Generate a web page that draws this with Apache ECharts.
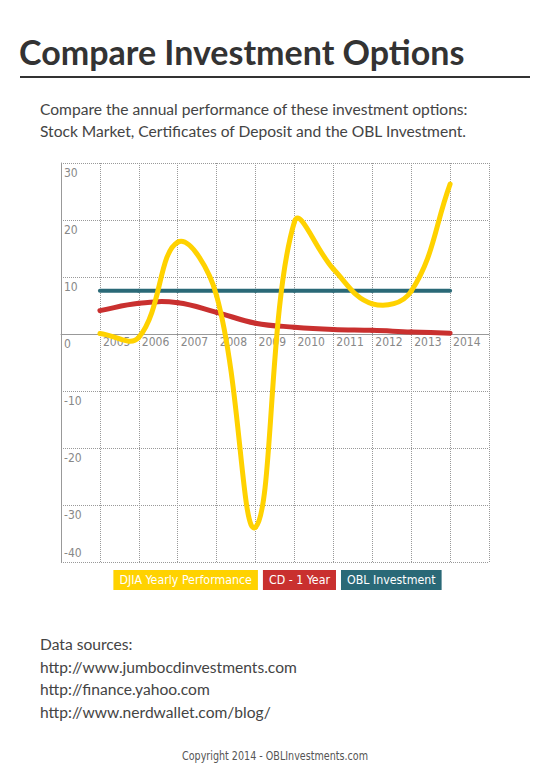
<!DOCTYPE html>
<html><head><meta charset="utf-8">
<script src="https://cdn.jsdelivr.net/npm/echarts@6/dist/echarts.min.js"></script>
<style>html,body{margin:0;padding:0;background:#fff;}#c{width:550px;height:769px;}</style>
</head><body><div id="c"></div>
<script>
const years = [2005, 2006, 2007, 2008, 2009, 2010, 2011, 2012, 2013, 2014];
const djia = [0.1, -0.6, 16.1, 6.7, -33.9, 19.7, 11.4, 5.3, 7.5, 26.3];
const cd1y = [4.1, 5.4, 5.5, 3.8, 1.9, 1.2, 0.8, 0.65, 0.35, 0.15];
const obl = [7.6, 7.6, 7.6, 7.6, 7.6, 7.6, 7.6, 7.6, 7.6, 7.6];
const seriesNames = ['DJIA Yearly Performance', 'CD - 1 Year', 'OBL Investment'];
const colors = ['#FFD200', '#C9302F', '#2A6977'];
const titleText = 'Compare Investment Options';
const subtitleLines = ['Compare the annual performance of these investment options:', 'Stock Market, Certificates of Deposit and the OBL Investment.'];
const sourceLines = ['Data sources:', 'http://www.jumbocdinvestments.com', 'http://finance.yahoo.com', 'http://www.nerdwallet.com/blog/'];
const copyright = 'Copyright 2014 - OBLInvestments.com';

const NARROW = "'Liberation Sans Narrow', 'DejaVu Sans Condensed', Roboto, sans-serif";
const BODY = "Lato, 'Open Sans', sans-serif";
const Y_MIN = -40, Y_MAX = 30;
const GRID = {left: 61, right: 61, top: 163, bottom: 207};
const GRID_H = 769 - GRID.top - GRID.bottom;

const pairs = arr => years.map((y, i) => [y, arr[i]]);
const chart = echarts.init(document.getElementById('c'), null, {renderer: 'svg'});

const graphics = [
  {type: 'text', left: 19, top: 34, style: {text: titleText, font: 'bold 34px Lato', fill: '#333'}},
  {type: 'rect', shape: {x: 20, y: 76, width: 510, height: 2}, style: {fill: '#333'}}
];
subtitleLines.forEach((t, i) => graphics.push({type: 'text', left: 40, top: 101 + i * 22, style: {text: t, font: '15.6px ' + BODY, fill: '#444'}}));
sourceLines.forEach((t, i) => graphics.push({type: 'text', left: 40, top: 636 + i * 22.5, style: {text: t, font: '15.6px ' + BODY, fill: '#444'}}));
graphics.push({type: 'text', x: 275, y: 756, scaleX: 0.82,
  style: {text: copyright, font: '13px ' + NARROW, fill: '#555', align: 'center', verticalAlign: 'middle'}});

// Cardinal spline (tension 0.4) through the data points, positioned by the axes
const TENSION = 0.4;
function splineRenderer(values, color, width) {
  const n = years.length;
  const clampIdx = k => Math.min(n - 1, Math.max(0, k));
  return function (params, api) {
    const i = params.dataIndex;
    if (i >= n - 1) return null;
    const P = k => api.coord([years[clampIdx(k)], values[clampIdx(k)]]);
    const ctrl = k => {
      const p0 = P(k - 1), p1 = P(k), p2 = P(k + 1);
      const d01 = Math.hypot(p1[0] - p0[0], p1[1] - p0[1]);
      const d12 = Math.hypot(p2[0] - p1[0], p2[1] - p1[1]);
      const s = (d01 + d12) || 1;
      const fa = TENSION * d01 / s, fb = TENSION * d12 / s;
      return {
        inner: [p1[0] - fa * (p2[0] - p0[0]), p1[1] - fa * (p2[1] - p0[1])],
        outer: [p1[0] + fb * (p2[0] - p0[0]), p1[1] + fb * (p2[1] - p0[1])]
      };
    };
    const a = P(i), b = P(i + 1), ca = ctrl(i), cb = ctrl(i + 1);
    return {
      type: 'bezierCurve',
      shape: {x1: a[0], y1: a[1], x2: b[0], y2: b[1], cpx1: ca.outer[0], cpy1: ca.outer[1], cpx2: cb.inner[0], cpy2: cb.inner[1]},
      style: {stroke: color, lineWidth: width, fill: null, lineCap: 'round'}
    };
  };
}
const curveSeries = (name, data, color, width, z) => ({
  name, type: 'custom', data: pairs(data), encode: {x: 0, y: 1},
  renderItem: splineRenderer(data, color, width), itemStyle: {color}, z
});

chart.setOption({
  animation: false,
  grid: GRID,
  xAxis: {
    type: 'value', min: 2004, max: 2015, interval: 1, position: 'bottom',
    offset: -GRID_H * (0 - Y_MIN) / (Y_MAX - Y_MIN),
    axisLine: {onZero: false, lineStyle: {color: '#999', width: 1}},
    axisTick: {show: false},
    splitLine: {show: true, lineStyle: {type: 'dotted', color: '#999'}},
    axisLabel: {showMinLabel: false, showMaxLabel: false, align: 'left', margin: 2, padding: [0, 0, 0, 3],
      color: '#888', fontSize: 12, fontFamily: NARROW, formatter: v => String(v)}
  },
  yAxis: {
    type: 'value', min: Y_MIN, max: Y_MAX, interval: 10,
    axisLine: {show: true, onZero: false, lineStyle: {color: '#999', width: 1}},
    axisTick: {show: false},
    splitLine: {show: true, lineStyle: {type: 'dotted', color: '#999'}},
    axisLabel: {inside: true, margin: 3, color: '#888', fontSize: 12, fontFamily: NARROW,
      formatter: v => (v === Y_MIN ? '{b|' : '{a|') + v + '}',
      rich: {
        a: {padding: [19, 0, 0, 0], fontSize: 12, color: '#888', fontFamily: NARROW},
        b: {padding: [0, 0, 19, 0], fontSize: 12, color: '#888', fontFamily: NARROW}
      }}
  },
  legend: {
    top: 565, left: 'center', itemGap: 0, itemWidth: 0, itemHeight: 0, selectedMode: false,
    textStyle: {color: '#fff', fontSize: 12.3, fontFamily: NARROW, padding: [3, 6, 3, 6], lineHeight: 14},
    data: seriesNames.map((n, i) => ({name: n, textStyle: {backgroundColor: colors[i], color: '#fff'}}))
  },
  graphic: graphics,
  series: [
    curveSeries(seriesNames[2], obl, colors[2], 4, 2),
    curveSeries(seriesNames[1], cd1y, colors[1], 5, 3),
    curveSeries(seriesNames[0], djia, colors[0], 5, 4)
  ]
});
</script></body></html>
